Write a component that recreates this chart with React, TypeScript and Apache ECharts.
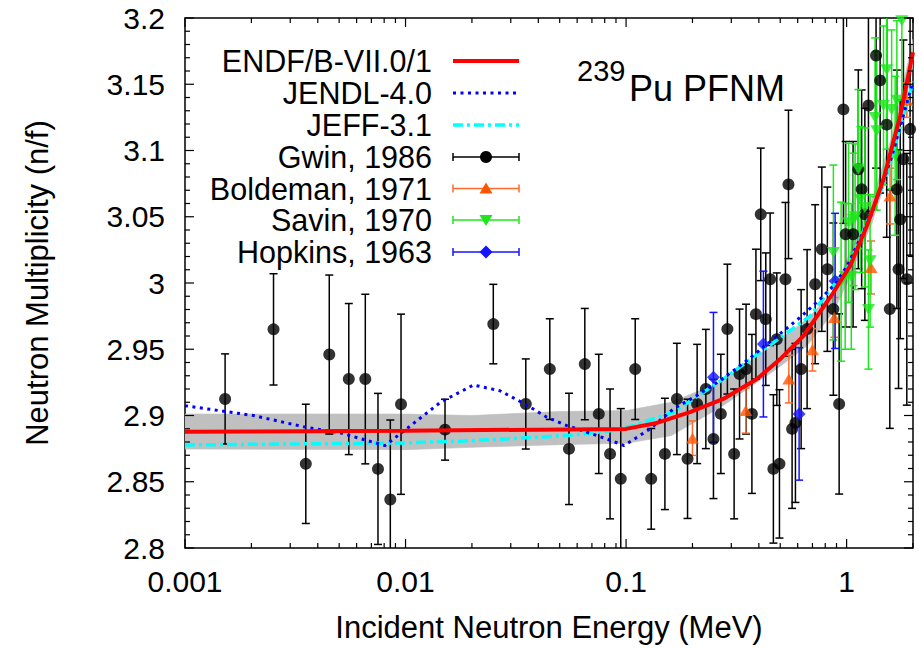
import React, { useEffect, useRef } from 'react';
import * as echarts from 'echarts';

const FONT = '"Liberation Sans", Arial, Helvetica, sans-serif';

// ---------- evaluated curves ----------
const endfE = [0.001, 0.01, 0.1, 0.138, 0.195, 0.276, 0.392, 0.5, 0.637, 0.871, 1.037, 1.235, 1.469, 1.748, 2.0];
const endfNu = [2.8877, 2.8885, 2.8899, 2.8944, 2.9025, 2.9125, 2.9275, 2.9426, 2.9601, 2.9928, 3.0129, 3.043, 3.0782, 3.1259, 3.174];

const jendlE = [0.001, 0.00204, 0.00356, 0.00505, 0.00807, 0.0101, 0.0144, 0.0203, 0.0268, 0.0348, 0.0437, 0.0539, 0.0664, 0.0818, 0.098, 0.1285, 0.164, 0.209, 0.267, 0.352, 0.466, 0.615, 0.758, 0.871, 1.0, 1.3, 1.6, 2.0];
const jendlNu = [2.9074, 2.9, 2.891, 2.8869, 2.8773, 2.8899, 2.91, 2.923, 2.9187, 2.9087, 2.8987, 2.8924, 2.8874, 2.8823, 2.8773, 2.8899, 2.905, 2.915, 2.9263, 2.9413, 2.9577, 2.974, 2.9878, 2.9978, 3.012, 3.052, 3.095, 3.152];

const jeffE = [0.001, 0.01, 0.02, 0.0539, 0.0864, 0.108, 0.164, 0.276, 0.466, 0.683, 0.871, 1.0, 1.5, 2.0];
const jeffNu = [2.8778, 2.8793, 2.881, 2.8848, 2.8886, 2.8924, 2.9025, 2.9275, 2.955, 2.975, 2.998, 3.01, 3.078, 3.152];

// uncertainty band (ENDF/B-VII)
const bandE = [0.001, 0.01, 0.02, 0.05, 0.1, 0.16, 0.27, 0.48, 0.66, 0.87, 1.0, 1.3, 1.6, 2.0];
const bandLo = [2.8747, 2.8742, 2.876, 2.878, 2.879, 2.8848, 2.9065, 2.935, 2.9525, 2.978, 2.999, 3.045, 3.09, 3.164];
const bandHi = [2.9011, 2.9011, 2.9, 2.903, 2.9037, 2.91, 2.9255, 2.955, 2.9727, 2.993, 3.017, 3.062, 3.11, 3.184];

// ---------- experimental data ----------
const gwinE = [0.00152, 0.00252, 0.00353, 0.00451, 0.00553, 0.00657, 0.0075, 0.00853, 0.00954, 0.0151, 0.025, 0.0351, 0.0451, 0.0551, 0.065, 0.0752, 0.0846, 0.0946, 0.11, 0.13, 0.15, 0.17, 0.19, 0.21, 0.23, 0.249, 0.269, 0.288, 0.309, 0.327, 0.35, 0.372, 0.388, 0.408, 0.43, 0.45, 0.4656, 0.4826, 0.496, 0.528, 0.545, 0.566, 0.586, 0.622, 0.662, 0.72, 0.772, 0.818, 0.871, 0.925, 0.967, 0.99, 1.07, 1.13, 1.17, 1.21, 1.256, 1.36, 1.419, 1.52, 1.57, 1.69, 1.72, 1.75, 1.81, 1.875, 1.94];
const gwinNu = [2.9125, 2.965, 2.8635, 2.946, 2.9275, 2.9275, 2.8597, 2.8366, 2.9085, 2.8893, 2.969, 2.9087, 2.935, 2.8748, 2.9388, 2.9012, 2.871, 2.8522, 2.935, 2.8522, 2.871, 2.9125, 2.8673, 2.9087, 2.92, 2.8823, 2.9012, 2.9652, 2.871, 2.9313, 2.935, 2.9012, 2.9765, 3.0518, 2.9727, 3.0028, 2.8597, 2.9576, 2.8635, 3.0028, 3.0744, 2.8899, 2.8944, 2.935, 2.9652, 2.9991, 3.0255, 3.0104, 2.9803, 2.9087, 3.131, 3.0368, 3.0368, 3.0858, 3.0707, 3.0518, 3.134, 3.1717, 3.1529, 3.1195, 2.9803, 3.0707, 3.0104, 3.048, 3.0934, 3.0028, 3.116];
const gwinErr = [0.034, 0.042, 0.045, 0.06, 0.057, 0.064, 0.057, 0.06, 0.068, 0.023, 0.03, 0.034, 0.038, 0.042, 0.042, 0.045, 0.049, 0.053, 0.038, 0.038, 0.042, 0.042, 0.045, 0.045, 0.045, 0.045, 0.045, 0.049, 0.049, 0.049, 0.049, 0.06, 0.049, 0.05, 0.05, 0.05, 0.056, 0.05, 0.056, 0.058, 0.056, 0.06, 0.06, 0.06, 0.06, 0.06, 0.062, 0.062, 0.065, 0.068, 0.086, 0.07, 0.07, 0.075, 0.075, 0.08, 0.08, 0.085, 0.085, 0.085, 0.09, 0.09, 0.09, 0.09, 0.09, 0.095, 0.095];

const boldE = [0.2, 0.349, 0.547, 0.7, 0.88, 1.29, 1.574, 1.875];
const boldNu = [2.8829, 2.9037, 2.9275, 2.9496, 2.974, 3.0117, 3.0656, 3.138];
const boldErr = [0.013, 0.017, 0.018, 0.016, 0.015, 0.02, 0.021, 0.013];

const savinE = [0.871, 0.944, 0.985, 1.02, 1.05, 1.074, 1.093, 1.13, 1.155, 1.21, 1.256, 1.278, 1.346, 1.37, 1.47, 1.52, 1.6, 1.66, 1.69, 1.78];
const savinNu = [3.023, 3.001, 3.005, 3.0455, 3.005, 3.048, 3.05, 3.086, 3.063, 3.057, 2.98, 3.0167, 3.125, 3.115, 3.134, 3.161, 3.131, 3.096, 3.138, 3.198];
const savinErr = [0.066, 0.06, 0.055, 0.06, 0.055, 0.05, 0.055, 0.06, 0.055, 0.06, 0.045, 0.05, 0.06, 0.06, 0.06, 0.06, 0.06, 0.06, 0.06, 0.06];

const hopE = [0.249, 0.4195, 0.609, 0.887];
const hopNu = [2.9288, 2.9539, 2.9012, 3.0016];
const hopErr = [0.049, 0.055, 0.05, 0.051];

// ---------- axes / labels ----------
const xMin = 0.001;
const xMax = 2;
const yMin = 2.8;
const yMax = 3.2;
const yStep = 0.05;
const xTickLabels = ['0.001', '0.01', '0.1', '1'];
const xDecades = [0.001, 0.01, 0.1, 1];
const legendLabels = ['ENDF/B-VII.0/1', 'JENDL-4.0', 'JEFF-3.1', 'Gwin, 1986', 'Boldeman, 1971', 'Savin, 1970', 'Hopkins, 1963'];
const xTitle = 'Incident Neutron Energy (MeV)';
const yTitle = 'Neutron Multiplicity (n/f)';

const C_RED = '#ff0000';
const C_JENDL = '#0000ff';
const C_JEFF = '#00ffff';
const C_GWIN = '#000000';
const C_BOLD = '#ff5500';
const C_BOLD_BAR = '#ff6a2a';
const C_SAVIN = '#1ee61e';
const C_HOP = '#1414ff';
const C_BAND = '#c0c0c0';

const zip = (a: number[], b: number[]) => a.map((v, i) => [v, b[i]]);
const zip3 = (a: number[], b: number[], c: number[]) => a.map((v, i) => [v, b[i], c[i]]);

// band segments (quads between consecutive band points)
const bandSegments = bandE.slice(0, -1).map((e, i) => [e, bandLo[i], bandHi[i], bandE[i + 1], bandLo[i + 1], bandHi[i + 1]]);

// tick positions
const xTickData: number[][] = [];
xDecades.forEach((d) => {
  xTickData.push([d, yMin, 9]);
  for (let k = 2; k <= 9; k++) {
    const v = d * k;
    if (v <= xMax + 1e-9) xTickData.push([v, yMin, 5]);
  }
});
const yTickData: number[][] = [];
for (let i = 0; i <= 40; i++) {
  const v = +(yMin + i * 0.01).toFixed(2);
  yTickData.push([xMin, v, i % 5 === 0 ? 9 : 5]);
}

function bandRender(params: any, api: any) {
  const p1 = api.coord([api.value(0), api.value(1)]);
  const p2 = api.coord([api.value(3), api.value(4)]);
  const p3 = api.coord([api.value(3), api.value(5)]);
  const p4 = api.coord([api.value(0), api.value(2)]);
  return {
    type: 'polygon',
    shape: { points: [p1, p2, p3, p4] },
    style: { fill: C_BAND, stroke: C_BAND, lineWidth: 0.6 },
  };
}

function errRender(color: string, lw: number) {
  return (params: any, api: any) => {
    const x = api.value(0);
    const y = api.value(1);
    const e = api.value(2);
    const top = api.coord([x, y + e]);
    const bot = api.coord([x, y - e]);
    const c = 4;
    const style = { stroke: color, lineWidth: lw, fill: null };
    return {
      type: 'group',
      children: [
        { type: 'line', shape: { x1: top[0], y1: top[1], x2: bot[0], y2: bot[1] }, style },
        { type: 'line', shape: { x1: top[0] - c, y1: top[1], x2: top[0] + c, y2: top[1] }, style },
        { type: 'line', shape: { x1: bot[0] - c, y1: bot[1], x2: bot[0] + c, y2: bot[1] }, style },
      ],
    };
  };
}

function xTickRender(params: any, api: any) {
  const cs = params.coordSys;
  const p = api.coord([api.value(0), api.value(1)]);
  const len = api.value(2);
  const style = { stroke: '#000', lineWidth: 1.2 };
  const yb = cs.y + cs.height;
  return {
    type: 'group',
    children: [
      { type: 'line', shape: { x1: p[0], y1: yb, x2: p[0], y2: yb - len }, style },
      { type: 'line', shape: { x1: p[0], y1: cs.y, x2: p[0], y2: cs.y + len }, style },
    ],
  };
}

function yTickRender(params: any, api: any) {
  const cs = params.coordSys;
  const p = api.coord([api.value(0), api.value(1)]);
  const len = api.value(2);
  const style = { stroke: '#000', lineWidth: 1.2 };
  const xr = cs.x + cs.width;
  return {
    type: 'group',
    children: [
      { type: 'line', shape: { x1: cs.x, y1: p[1], x2: cs.x + len, y2: p[1] }, style },
      { type: 'line', shape: { x1: xr, y1: p[1], x2: xr - len, y2: p[1] }, style },
    ],
  };
}

function textEl(text: string, x: number, y: number, size: number, align: string) {
  return {
    type: 'text',
    x,
    y,
    z: 100,
    style: {
      text,
      fill: '#000',
      fontSize: size,
      lineHeight: 28,
      fontFamily: FONT,
      align,
      textAlign: align,
      verticalAlign: 'middle',
      textVerticalAlign: 'middle',
    },
  };
}

function buildLegend() {
  const rows = [61, 93, 125, 157, 188.5, 220, 252];
  const tx = 432;
  const x1 = 453;
  const x2 = 519;
  const xm = 486;
  const els: any[] = [];
  legendLabels.forEach((lab, i) => els.push(textEl(lab, tx, rows[i], 30.5, 'right')));
  const line = (y: number, color: string, w: number, dash?: number[]) => ({
    type: 'line',
    z: 100,
    shape: { x1, y1: y, x2, y2: y },
    style: { stroke: color, lineWidth: w, lineDash: dash || null },
  });
  els.push(line(rows[0], C_RED, 4));
  els.push(line(rows[1], C_JENDL, 3, [3, 4.5]));
  els.push(line(rows[2], C_JEFF, 3.5, [10, 4, 3, 4]));
  const errSample = (y: number, color: string) => {
    const st = { stroke: color, lineWidth: 1.5 };
    els.push({ type: 'line', z: 100, shape: { x1, y1: y, x2, y2: y }, style: st });
    els.push({ type: 'line', z: 100, shape: { x1, y1: y - 4, x2: x1, y2: y + 4 }, style: st });
    els.push({ type: 'line', z: 100, shape: { x1: x2, y1: y - 4, x2, y2: y + 4 }, style: st });
  };
  errSample(rows[3], C_GWIN);
  els.push({ type: 'circle', z: 101, shape: { cx: xm, cy: rows[3], r: 6 }, style: { fill: C_GWIN } });
  errSample(rows[4], C_BOLD_BAR);
  els.push({
    type: 'polygon', z: 101,
    shape: { points: [[xm, rows[4] - 6], [xm + 6.5, rows[4] + 5], [xm - 6.5, rows[4] + 5]] },
    style: { fill: C_BOLD },
  });
  errSample(rows[5], C_SAVIN);
  els.push({
    type: 'polygon', z: 101,
    shape: { points: [[xm, rows[5] + 6], [xm + 6.5, rows[5] - 5], [xm - 6.5, rows[5] - 5]] },
    style: { fill: C_SAVIN },
  });
  errSample(rows[6], C_HOP);
  els.push({
    type: 'polygon', z: 101,
    shape: { points: [[xm, rows[6] - 6.5], [xm + 6.5, rows[6]], [xm, rows[6] + 6.5], [xm - 6.5, rows[6]]] },
    style: { fill: C_HOP },
  });
  // title
  els.push({
    type: 'text', x: 577, y: 71, z: 100,
    style: { text: '239', fill: '#000', fontSize: 29, fontFamily: FONT, align: 'left', textAlign: 'left', verticalAlign: 'middle', textVerticalAlign: 'middle' },
  });
  els.push({
    type: 'text', x: 629, y: 88, z: 100,
    style: { text: 'Pu PFNM', fill: '#000', fontSize: 36, fontFamily: FONT, align: 'left', textAlign: 'left', verticalAlign: 'middle', textVerticalAlign: 'middle' },
  });
  return els;
}

function buildOption(): any {
  return {
    animation: false,
    backgroundColor: '#ffffff',
    grid: { left: 185, right: 6, top: 18, bottom: 99, show: true, borderColor: '#000', borderWidth: 1.5, backgroundColor: 'transparent' },
    xAxis: {
      type: 'log',
      logBase: 10,
      min: xMin,
      max: xMax,
      axisLine: { show: false },
      axisTick: { show: false },
      splitLine: { show: false },
      axisLabel: {
        fontSize: 30,
        fontFamily: FONT,
        color: '#000',
        margin: 18,
        formatter: (v: number) => {
          const lg = Math.log10(v);
          const k = Math.round(lg);
          if (Math.abs(lg - k) > 1e-6) return '';
          return xTickLabels[k + 3] ?? '';
        },
      },
      name: xTitle,
      nameLocation: 'middle',
      nameGap: 64,
      nameTextStyle: { fontSize: 31, fontFamily: FONT, color: '#000' },
    },
    yAxis: {
      type: 'value',
      min: yMin,
      max: yMax,
      interval: yStep,
      axisLine: { show: false },
      axisTick: { show: false },
      splitLine: { show: false },
      axisLabel: {
        fontSize: 30,
        fontFamily: FONT,
        color: '#000',
        margin: 20,
        formatter: (v: number) => String(parseFloat(v.toFixed(2))),
      },
      name: yTitle,
      nameLocation: 'middle',
      nameGap: 132,
      nameTextStyle: { fontSize: 31, fontFamily: FONT, color: '#000' },
    },
    graphic: buildLegend(),
    series: [
      { type: 'custom', name: 'ENDF uncertainty', data: bandSegments, renderItem: bandRender, clip: true, silent: true, z: 1, encode: { x: 0, y: 1 } },
      { type: 'custom', name: 'Gwin bars', data: zip3(gwinE, gwinNu, gwinErr), renderItem: errRender(C_GWIN, 1.5), clip: true, z: 2, encode: { x: 0, y: 1 } },
      { type: 'custom', name: 'Boldeman bars', data: zip3(boldE, boldNu, boldErr), renderItem: errRender(C_BOLD_BAR, 1.5), clip: true, z: 2, encode: { x: 0, y: 1 } },
      { type: 'custom', name: 'Savin bars', data: zip3(savinE, savinNu, savinErr), renderItem: errRender(C_SAVIN, 1.5), clip: true, z: 2, encode: { x: 0, y: 1 } },
      { type: 'custom', name: 'Hopkins bars', data: zip3(hopE, hopNu, hopErr), renderItem: errRender(C_HOP, 1.5), clip: true, z: 2, encode: { x: 0, y: 1 } },
      { type: 'scatter', name: legendLabels[3], data: zip(gwinE, gwinNu), symbol: 'circle', symbolSize: 12, itemStyle: { color: C_GWIN }, z: 3 },
      { type: 'scatter', name: legendLabels[4], data: zip(boldE, boldNu), symbol: 'triangle', symbolSize: [13, 11], itemStyle: { color: C_BOLD }, z: 3 },
      { type: 'scatter', name: legendLabels[5], data: zip(savinE, savinNu), symbol: 'triangle', symbolRotate: 180, symbolSize: [13, 11], itemStyle: { color: C_SAVIN }, z: 3 },
      { type: 'scatter', name: legendLabels[6], data: zip(hopE, hopNu), symbol: 'diamond', symbolSize: [13, 13], itemStyle: { color: C_HOP }, z: 3 },
      { type: 'line', name: legendLabels[2], data: zip(jeffE, jeffNu), showSymbol: false, symbol: 'none', clip: true, lineStyle: { color: C_JEFF, width: 3.5, type: [10, 4, 3, 4] }, z: 4 },
      { type: 'line', name: legendLabels[1], data: zip(jendlE, jendlNu), showSymbol: false, symbol: 'none', clip: true, lineStyle: { color: C_JENDL, width: 3, type: [3, 4.5] }, z: 4 },
      { type: 'line', name: legendLabels[0], data: zip(endfE, endfNu), showSymbol: false, symbol: 'none', clip: true, smooth: false, lineStyle: { color: C_RED, width: 4 }, z: 5 },
      { type: 'custom', name: 'xticks', data: xTickData, renderItem: xTickRender, silent: true, z: 6, encode: { x: 0, y: 1 } },
      { type: 'custom', name: 'yticks', data: yTickData, renderItem: yTickRender, silent: true, z: 6, encode: { x: 0, y: 1 } },
    ],
  };
}

export default function App() {
  const ref = useRef<HTMLDivElement>(null);
  useEffect(() => {
    if (!ref.current) return;
    const chart = echarts.init(ref.current, null, { renderer: 'svg' });
    chart.setOption(buildOption());
    return () => chart.dispose();
  }, []);
  return (
    <div
      ref={ref}
      style={{ position: 'fixed', left: 0, top: 0, width: 919, height: 648, background: '#fff' }}
    />
  );
}
